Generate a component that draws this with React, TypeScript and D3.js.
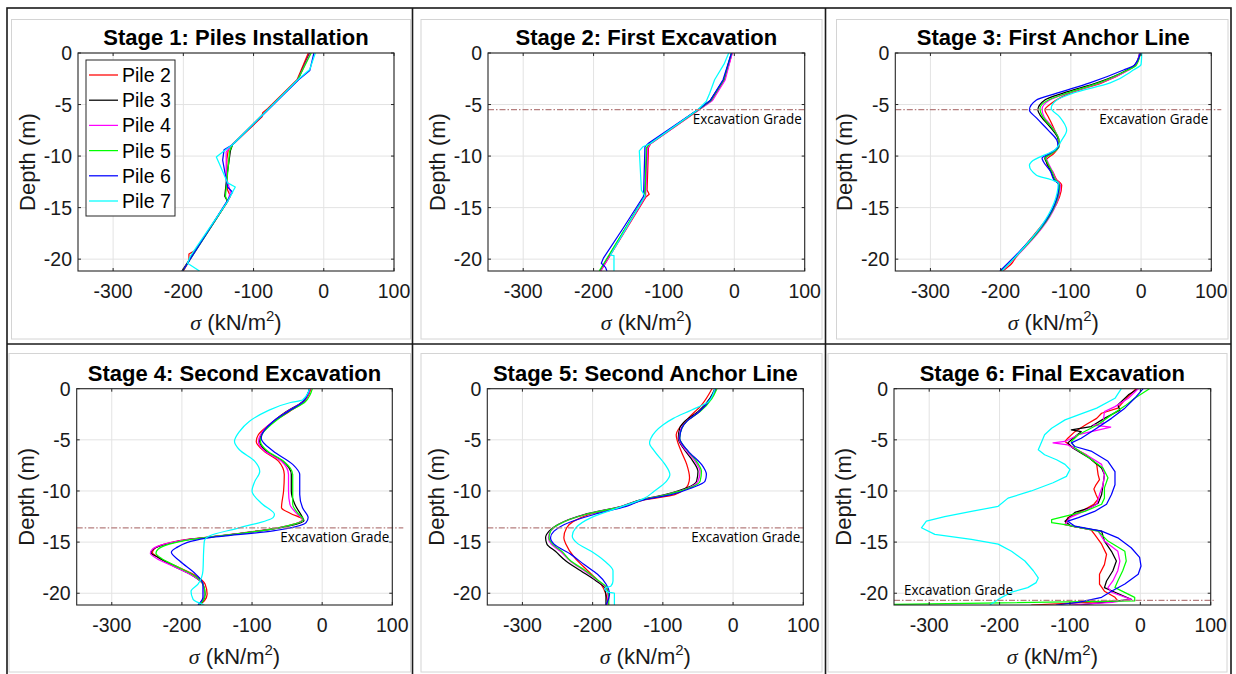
import { useEffect, useRef } from "react";
import * as d3 from "d3";

// each point is [depth (m), sigma (kN/m2)]
type Pt = [number, number];

const pileNames = ["Pile 2", "Pile 3", "Pile 4", "Pile 5", "Pile 6", "Pile 7"];
const pileColors = ["#ff0000", "#000000", "#ff00ff", "#00ff00", "#0000ff", "#00ffff"];

const stageTitles = [
  "Stage 1: Piles Installation",
  "Stage 2: First Excavation",
  "Stage 3: First Anchor Line",
  "Stage 4: Second Excavation",
  "Stage 5: Second Anchor Line",
  "Stage 6: Final Excavation",
];

const sigmaTicks = [-300, -200, -100, 0, 100];
const depthTicks = [0, -5, -10, -15, -20];
const sigmaDomain = [-350, 100];
const depthDomain = [-21.15, 0];

// excavation grade depth per stage (null = none)
const gradeDepths = [null, -5.5, -5.5, -13.6, -13.6, -20.7];
const gradeLabel = "Excavation Grade";

// ---- Stage 1 ----
const s1Pile2: Pt[] = [[0, -22], [-2.6, -38], [-5.4, -80], [-5.8, -87], [-6.2, -88], [-8.9, -130], [-9.4, -136], [-10.3, -138], [-12, -138], [-13.3, -137], [-13.9, -133], [-14.4, -137], [-17, -162], [-19.2, -184], [-19.5, -192], [-20.2, -192], [-21.15, -200]];
const s1Pile3: Pt[] = [[0, -20], [-2.6, -37], [-8.9, -130], [-9.5, -133], [-12, -138], [-13.9, -141], [-14.4, -137], [-21.15, -202]];
const s1Pile4: Pt[] = [[0, -19], [-2.6, -37], [-8.9, -130], [-9.6, -139], [-12, -139], [-13.5, -133], [-14.4, -137], [-21.15, -201]];
const s1Pile5: Pt[] = [[0, -18], [-2.6, -37], [-8.9, -130], [-9.5, -134], [-13.9, -140], [-14.4, -137], [-21.15, -201]];
const s1Pile6: Pt[] = [[0, -14], [-1.7, -20], [-2.6, -36], [-8.9, -130], [-9.4, -142], [-10.4, -144], [-13, -137], [-13.5, -130], [-14.3, -137], [-21.15, -201]];
const s1Pile7: Pt[] = [[0, -12], [-1.6, -20], [-2.6, -37], [-8.9, -130], [-9.6, -144], [-10.1, -153], [-10.7, -149], [-12.6, -137], [-13, -126], [-13.5, -130], [-14.4, -137], [-19.7, -190], [-20.4, -194], [-21.15, -177]];

// ---- Stage 2 ----
const s2Pile2: Pt[] = [[0, -3], [-2.6, -14], [-4.6, -32], [-5.6, -52], [-8.8, -119], [-9.2, -122], [-13.3, -124], [-13.7, -121], [-14, -126], [-21.15, -190]];
const s2Pile3: Pt[] = [[0, -4], [-2.6, -15], [-4.6, -34], [-5.5, -52], [-8.8, -120], [-9.2, -124], [-13.9, -127], [-21.15, -191]];
const s2Pile4: Pt[] = [[0, -3], [-2.6, -13], [-4.6, -31], [-5.5, -50], [-8.8, -119], [-9.2, -123], [-13.9, -126], [-21.15, -190]];
const s2Pile5: Pt[] = [[0, -4], [-2.6, -15], [-4.6, -33], [-5.5, -51], [-8.8, -120], [-9.2, -125], [-13.9, -127], [-21.15, -192]];
const s2Pile6: Pt[] = [[0, -4], [-2.6, -16], [-4.6, -34], [-5.5, -52], [-8.7, -121], [-9.1, -127], [-13.9, -129], [-17, -158], [-19.9, -186], [-20.4, -189], [-20.8, -183], [-21.15, -181]];
const s2Pile7: Pt[] = [[0, -8], [-1, -14], [-2.6, -28], [-3.9, -35], [-4.7, -40], [-5.5, -52], [-8.8, -120], [-9.1, -130], [-9.5, -135], [-13.3, -132], [-13.9, -127], [-19.6, -176], [-19.65, -171], [-21.15, -171]];

// ---- Stage 3 ----
const s3Pile2: Pt[] = [[0, -1], [-1.2, -8], [-1.65, -18], [-2.9, -56], [-3.9, -101], [-4.9, -128], [-5.5, -137], [-6.2, -132], [-7.5, -123], [-8.8, -116], [-9.74, -124], [-10.4, -135], [-10.8, -134], [-11.5, -126], [-12.3, -120], [-12.8, -113], [-20, -180], [-20.4, -184], [-21.15, -197]];
const s3Pile3: Pt[] = [[0, -2], [-1.17, -9], [-1.65, -20], [-2.9, -63], [-3.9, -111], [-4.56, -137], [-5.53, -147], [-6.2, -142], [-7.15, -130], [-8.45, -118], [-9.1, -118], [-9.74, -128], [-10.2, -137], [-10.55, -135], [-11.5, -128], [-12.3, -123], [-12.8, -117], [-21.15, -199]];
const s3Pile4: Pt[] = [[0, -2], [-1.2, -8], [-1.65, -18], [-2.9, -58], [-3.9, -104], [-4.56, -130], [-5.45, -141], [-6.2, -138], [-7.15, -127], [-8.45, -117], [-9.1, -117], [-9.74, -127], [-10.2, -135], [-10.55, -133], [-11.5, -126], [-12.3, -121], [-12.8, -115], [-21.15, -198]];
const s3Pile5: Pt[] = [[0, -1], [-1.2, -7], [-1.65, -19], [-2.9, -60], [-3.9, -106], [-4.56, -132], [-5.4, -144], [-6.2, -140], [-7.15, -128], [-8.45, -117], [-9.1, -117], [-9.74, -127], [-10.2, -136], [-10.55, -134], [-11.5, -127], [-12.3, -122], [-12.8, -116], [-21.15, -199]];
const s3Pile6: Pt[] = [[0, -1], [-1.2, -10], [-1.65, -25], [-2.9, -73], [-3.9, -120], [-4.56, -149], [-5.53, -159], [-6.3, -149], [-7.5, -132], [-8.45, -120], [-9.1, -118], [-9.74, -130], [-10.2, -141], [-10.55, -139], [-11.5, -129], [-12.3, -124], [-12.8, -117], [-21.15, -201]];
const s3Pile7: Pt[] = [[0, 1], [-1.1, 0], [-1.65, -11], [-2.9, -44], [-3.9, -97], [-4.56, -120], [-5.37, -128], [-6.2, -116], [-7.5, -106], [-8.45, -113], [-9.4, -123], [-10.55, -156], [-10.9, -159], [-11.85, -149], [-12.3, -128], [-12.6, -118], [-21.15, -198]];

// ---- Stage 4 ----
const s4Pile2: Pt[] = [[0, -16], [-1.27, -26], [-2.24, -47], [-3.54, -76], [-4.5, -91], [-5.16, -94], [-6.1, -83], [-7.1, -62], [-8.4, -54], [-10, -55], [-11.65, -58], [-12.2, -45], [-12.8, -28], [-13.6, -63], [-14.25, -130], [-14.74, -192], [-15.2, -225], [-15.7, -240], [-16.05, -242], [-16.5, -233], [-17.3, -210], [-18.3, -180], [-19.1, -167], [-20.1, -164], [-20.75, -168], [-21.15, -175]];
const s4Pile3: Pt[] = [[0, -18], [-1.27, -28], [-2.24, -51], [-3.54, -75], [-4.5, -87], [-5.16, -89], [-6.1, -80], [-7.1, -56], [-8.4, -44], [-10, -44], [-11.3, -39], [-12.6, -28], [-12.9, -26], [-13.6, -61], [-14.25, -127], [-14.74, -189], [-15.2, -222], [-15.7, -241], [-16.05, -244], [-16.5, -234], [-17.3, -213], [-18.3, -184], [-19.1, -170], [-20.1, -167], [-20.75, -170], [-21.15, -175]];
const s4Pile4: Pt[] = [[0, -17], [-1.27, -27], [-2.24, -50], [-3.54, -76], [-4.5, -88], [-5.16, -91], [-6.1, -82], [-7.1, -58], [-8.4, -48], [-10, -48], [-11.3, -46], [-12.3, -35], [-12.8, -28], [-13.6, -62], [-14.25, -128], [-14.74, -190], [-15.2, -225], [-15.7, -242], [-16.1, -245], [-16.6, -236], [-17.3, -214], [-18.3, -184], [-19.1, -170], [-20.1, -168], [-20.75, -171], [-21.15, -177]];
const s4Pile5: Pt[] = [[0, -14], [-1.27, -24], [-2.24, -48], [-3.54, -73], [-4.5, -86], [-5.16, -88], [-6.1, -78], [-7.1, -55], [-8.4, -42], [-10, -42], [-11.3, -42], [-12.3, -33], [-12.8, -27], [-13.6, -62], [-14.25, -128], [-14.74, -186], [-15.2, -218], [-15.7, -234], [-16.1, -237], [-16.6, -229], [-17.3, -210], [-18.3, -182], [-19.1, -170], [-20.1, -167], [-20.75, -170], [-21.15, -176]];
const s4Pile6: Pt[] = [[0, -18], [-1.27, -27], [-2.24, -49], [-3.2, -70], [-4.84, -87], [-6.1, -70], [-7.4, -42], [-8.4, -32], [-10.35, -32], [-11.65, -28], [-12.6, -20], [-13.1, -23], [-13.9, -70], [-14.6, -165], [-15.55, -208], [-16, -215], [-16.85, -203], [-18.15, -180], [-19.1, -170], [-20.4, -170], [-21.15, -177]];
const s4Pile7: Pt[] = [[0, -18], [-1.1, -28], [-1.35, -45], [-2.24, -80], [-3.2, -104], [-4.2, -118], [-5.16, -125], [-5.97, -118], [-7.1, -96], [-8.1, -89], [-9.06, -96], [-10, -100], [-11.3, -85], [-12.3, -68], [-12.6, -70], [-13.6, -118], [-14.4, -161], [-14.9, -168], [-15.9, -169], [-17.8, -170], [-19.1, -177], [-19.8, -187], [-20.6, -184], [-21.15, -168]];

// ---- Stage 5 ----
const s5Pile2: Pt[] = [[0, -30], [-1.6, -45], [-2.9, -64], [-4.5, -81], [-6.1, -74], [-7.4, -66], [-8.7, -62], [-9.4, -64], [-10.35, -83], [-10.85, -125], [-11.5, -157], [-12.3, -205], [-13, -228], [-13.6, -237], [-14.58, -241], [-15.2, -238], [-16.5, -226], [-17.8, -207], [-19.1, -188], [-20.1, -181], [-21.15, -178]];
const s5Pile3: Pt[] = [[0, -26], [-0.94, -33], [-2.24, -50], [-3.2, -69], [-3.86, -76], [-4.84, -78], [-5.8, -71], [-7.1, -57], [-8.1, -50], [-9.06, -52], [-9.7, -66], [-10.35, -97], [-10.85, -131], [-11.5, -159], [-12.3, -212], [-13.3, -250], [-13.93, -262], [-14.58, -267], [-15.2, -265], [-15.9, -253], [-16.85, -238], [-17.8, -217], [-18.8, -195], [-19.45, -183], [-20.4, -181], [-21.15, -181]];
const s5Pile4: Pt[] = [[0, -24], [-0.94, -31], [-2.24, -48], [-3.2, -66], [-3.86, -74], [-4.84, -77], [-5.8, -70], [-7.1, -54], [-8.1, -47], [-9.06, -50], [-9.7, -63], [-10.35, -94], [-10.85, -128], [-11.5, -158], [-12.3, -210], [-13.3, -249], [-13.93, -260], [-14.58, -263], [-15.2, -259], [-15.9, -246], [-16.85, -232], [-17.8, -212], [-18.8, -192], [-19.45, -181], [-20.4, -178], [-21.15, -178]];
const s5Pile5: Pt[] = [[0, -23], [-0.94, -30], [-2.24, -47], [-3.2, -66], [-3.86, -73], [-4.84, -76], [-5.8, -68], [-7.1, -52], [-8.1, -45], [-9.06, -47], [-9.7, -62], [-10.35, -94], [-10.85, -128], [-11.5, -157], [-12.3, -210], [-13.3, -249], [-13.93, -260], [-14.58, -262], [-15.2, -257], [-15.9, -244], [-16.85, -231], [-17.8, -210], [-18.8, -191], [-19.45, -180], [-20.4, -177], [-21.15, -177]];
const s5Pile6: Pt[] = [[0, -25], [-0.94, -32], [-2.24, -48], [-3.2, -66], [-3.86, -73], [-4.84, -76], [-6.1, -64], [-7.4, -45], [-8.4, -38], [-9.06, -40], [-9.7, -59], [-10.35, -88], [-10.85, -126], [-11.5, -152], [-12.3, -198], [-13.3, -241], [-13.93, -255], [-14.58, -260], [-15.2, -255], [-16.2, -231], [-17.2, -212], [-18.15, -193], [-19.1, -181], [-20.1, -176], [-21.15, -181]];
const s5Pile7: Pt[] = [[0, -26], [-1.27, -35], [-2.08, -59], [-2.9, -85], [-3.54, -100], [-4.84, -117], [-5.3, -119], [-6.1, -112], [-7.4, -97], [-8.4, -90], [-9.06, -95], [-10, -112], [-10.7, -126], [-11.65, -164], [-12.6, -202], [-13.6, -224], [-14.4, -229], [-15.1, -222], [-15.9, -202], [-16.85, -183], [-17.8, -171], [-18.8, -171], [-19.3, -174], [-19.5, -183], [-19.9, -178], [-20.0, -169], [-21.15, -169]];

// ---- Stage 6 ----
const s6Pile2: Pt[] = [[0, -6], [-0.94, -20], [-1.9, -32], [-2.4, -55], [-2.9, -62], [-3.5, -77], [-4.2, -93], [-4.84, -103], [-5.16, -107], [-5.65, -98], [-6.46, -77], [-7.4, -62], [-8.4, -60], [-8.9, -58], [-9.4, -63], [-9.8, -66], [-10.35, -63], [-10.8, -60], [-11.3, -66], [-12, -84], [-12.6, -103], [-13.3, -107], [-13.8, -70], [-14.25, -65], [-15.2, -55], [-16.2, -48], [-17.2, -51], [-18.15, -58], [-19.1, -58], [-19.8, -51], [-20.4, -36], [-20.75, -32], [-21.15, -155]];
const s6Pile3: Pt[] = [[0, -3], [-0.6, -17], [-1.6, -32], [-2.1, -29], [-2.9, -51], [-3.7, -70], [-4.03, -98], [-4.2, -84], [-4.7, -93], [-5.3, -103], [-5.8, -96], [-6.8, -72], [-7.76, -55], [-8.4, -51], [-9.4, -53], [-10.35, -55], [-11.2, -60], [-11.65, -72], [-12.1, -93], [-12.95, -107], [-13.44, -98], [-13.93, -55], [-14.9, -51], [-15.9, -41], [-16.85, -34], [-17.8, -39], [-18.8, -48], [-19.45, -51], [-19.9, -36], [-20.6, -13], [-20.9, -51], [-21.15, -90]];
const s6Pile4: Pt[] = [[0, -3], [-0.94, -17], [-1.75, -36], [-2.24, -51], [-3.4, -53], [-3.55, -67], [-3.75, -42], [-4.5, -88], [-5.16, -107], [-5.3, -124], [-5.5, -103], [-6.46, -77], [-7.4, -55], [-8.4, -51], [-9.4, -53], [-10.35, -58], [-11.3, -62], [-11.95, -79], [-12.6, -100], [-13.3, -107], [-13.93, -60], [-14.9, -51], [-15.9, -32], [-16.85, -29], [-17.8, -32], [-18.8, -39], [-19.45, -46], [-19.9, -41], [-20.6, -13], [-20.9, -40], [-21.15, -100]];
const s6Pile5: Pt[] = [[0, 13], [-0.94, -8], [-1.6, -20], [-2.56, -41], [-3.5, -60], [-4.5, -88], [-5.16, -98], [-5.8, -93], [-6.8, -72], [-7.76, -53], [-8.7, -46], [-9.7, -51], [-10.7, -51], [-11.3, -55], [-12, -79], [-12.8, -126], [-13.1, -126], [-13.3, -107], [-13.93, -60], [-14.9, -46], [-15.9, -22], [-16.85, -20], [-17.8, -25], [-18.8, -32], [-19.45, -36], [-20.4, -8], [-20.75, -8], [-21.15, -400]];
const s6Pile6: Pt[] = [[0, 4], [-0.94, -8], [-1.9, -22], [-2.9, -41], [-3.86, -62], [-4.84, -84], [-5.3, -98], [-5.65, -93], [-6.1, -70], [-7.1, -46], [-8.1, -36], [-9.4, -36], [-10.35, -41], [-11.3, -48], [-12, -65], [-12.6, -88], [-12.95, -103], [-13.44, -93], [-13.93, -55], [-14.58, -32], [-15.55, -13], [-16.5, -1], [-17.34, 1], [-18.15, -3], [-19.1, -22], [-19.8, -41], [-20.4, -55], [-20.9, -88], [-21.15, -120]];
const s6Pile7: Pt[] = [[0, -27], [-0.94, -36], [-1.9, -62], [-2.56, -88], [-3.05, -107], [-3.86, -126], [-4.5, -136], [-5.16, -140], [-5.97, -145], [-6.46, -136], [-6.95, -119], [-7.4, -107], [-7.9, -100], [-8.57, -105], [-9.2, -124], [-10, -155], [-10.7, -188], [-11.5, -202], [-12, -240], [-12.5, -278], [-12.95, -304], [-13.6, -311], [-14.25, -292], [-14.74, -240], [-15.2, -202], [-15.9, -183], [-16.85, -164], [-17.8, -152], [-18.5, -145], [-18.96, -148], [-19.45, -160], [-19.9, -183], [-20.4, -197], [-21.15, -214]];

const stageCurves: Pt[][][] = [
  [s1Pile2, s1Pile3, s1Pile4, s1Pile5, s1Pile6, s1Pile7],
  [s2Pile2, s2Pile3, s2Pile4, s2Pile5, s2Pile6, s2Pile7],
  [s3Pile2, s3Pile3, s3Pile4, s3Pile5, s3Pile6, s3Pile7],
  [s4Pile2, s4Pile3, s4Pile4, s4Pile5, s4Pile6, s4Pile7],
  [s5Pile2, s5Pile3, s5Pile4, s5Pile5, s5Pile6, s5Pile7],
  [s6Pile2, s6Pile3, s6Pile4, s6Pile5, s6Pile6, s6Pile7],
];

// layout (pixels)
const plotBoxes = [
  { l: 78, r: 394, t: 53, b: 271 },
  { l: 488, r: 804.7, t: 53, b: 271 },
  { l: 895.3, r: 1211.3, t: 53, b: 271 },
  { l: 76.7, r: 392.3, t: 388.7, b: 605 },
  { l: 487.3, r: 803.3, t: 388.7, b: 605 },
  { l: 894, r: 1210.7, t: 388.7, b: 605 },
];
const frames = [
  [11.5, 19.5, 410.5, 339],
  [421, 19.5, 822, 339],
  [836.5, 19.5, 1228, 339],
  [9, 353.5, 410.5, 672],
  [421, 353.5, 822, 672],
  [828, 353.5, 1227, 672],
];
const gradeLineExtra = [0, 0, 10, 11, 1, 3];
const smoothStage = [false, false, true, true, true, false];

const FONT = "'Liberation Sans', Arial, Helvetica, sans-serif";

export default function App() {
  const svgRef = useRef<SVGSVGElement>(null);

  useEffect(() => {
    const svg = d3.select(svgRef.current);
    svg.selectAll("*").remove();

    svg.append("rect").attr("width", 1236).attr("height", 674).attr("fill", "white");

    // light frames around each figure
    frames.forEach(([x0, y0, x1, y1]) => {
      svg
        .append("rect")
        .attr("x", x0)
        .attr("y", y0)
        .attr("width", x1 - x0)
        .attr("height", y1 - y0)
        .attr("fill", "none")
        .attr("stroke", "#d4d4d4")
        .attr("stroke-width", 1);
    });

    // table borders
    const table = svg.append("g").attr("stroke", "#1a1a1a").attr("stroke-width", 1.6).attr("fill", "none");
    table.append("rect").attr("x", 7).attr("y", 8).attr("width", 1224).attr("height", 670);
    table.append("line").attr("x1", 412.5).attr("x2", 412.5).attr("y1", 8).attr("y2", 674);
    table.append("line").attr("x1", 825.5).attr("x2", 825.5).attr("y1", 8).attr("y2", 674);
    table.append("line").attr("x1", 7).attr("x2", 1231).attr("y1", 344).attr("y2", 344);

    stageCurves.forEach((curves, si) => {
      const box = plotBoxes[si];
      const g = svg.append("g");
      const x = d3.scaleLinear().domain(sigmaDomain).range([box.l, box.r]);
      const y = d3.scaleLinear().domain(depthDomain).range([box.b, box.t]);

      g.append("rect")
        .attr("x", box.l)
        .attr("y", box.t)
        .attr("width", box.r - box.l)
        .attr("height", box.b - box.t)
        .attr("fill", "white");

      // grids
      g.append("g")
        .selectAll("line")
        .data(sigmaTicks)
        .join("line")
        .attr("x1", (d) => x(d))
        .attr("x2", (d) => x(d))
        .attr("y1", box.t)
        .attr("y2", box.b)
        .attr("stroke", "#e3e3e3")
        .attr("stroke-width", 1);
      g.append("g")
        .selectAll("line")
        .data(depthTicks)
        .join("line")
        .attr("x1", box.l)
        .attr("x2", box.r)
        .attr("y1", (d) => y(d))
        .attr("y2", (d) => y(d))
        .attr("stroke", "#e3e3e3")
        .attr("stroke-width", 1);

      // curves
      const clipId = `clip-${si}`;
      svg
        .append("clipPath")
        .attr("id", clipId)
        .append("rect")
        .attr("x", box.l)
        .attr("y", box.t)
        .attr("width", box.r - box.l)
        .attr("height", box.b - box.t);

      const line = d3
        .line<Pt>()
        .x((d) => x(d[1]))
        .y((d) => y(d[0]))
        .curve(smoothStage[si] ? d3.curveMonotoneY : d3.curveLinear);

      g.append("g")
        .attr("clip-path", `url(#${clipId})`)
        .selectAll("path")
        .data(curves)
        .join("path")
        .attr("d", (d) => line(d))
        .attr("fill", "none")
        .attr("stroke", (_, i) => pileColors[i])
        .attr("stroke-width", 1.25)
        .attr("stroke-linejoin", "round");

      // excavation grade
      const gd = gradeDepths[si];
      if (gd !== null) {
        const gy = y(gd);
        g.append("line")
          .attr("x1", box.l)
          .attr("x2", box.r + gradeLineExtra[si])
          .attr("y1", gy)
          .attr("y2", gy)
          .attr("stroke", "#b57e7e")
          .attr("stroke-width", 1.2)
          .attr("stroke-dasharray", "6,2,1.5,2");
        const atLeft = si === 5;
        g.append("text")
          .attr("x", atLeft ? box.l + 10 : box.r - 3)
          .attr("y", atLeft ? gy - 5 : gy + 14)
          .attr("text-anchor", atLeft ? "start" : "end")
          .attr("font-family", "'Open Sans', 'Noto Sans', sans-serif")
          .attr("font-size", 14)
          .attr("textLength", 109)
          .attr("lengthAdjust", "spacingAndGlyphs")
          .attr("fill", "#000")
          .text(gradeLabel);
      }

      // axes box with inward ticks
      g.append("rect")
        .attr("x", box.l)
        .attr("y", box.t)
        .attr("width", box.r - box.l)
        .attr("height", box.b - box.t)
        .attr("fill", "none")
        .attr("stroke", "#262626")
        .attr("stroke-width", 1.1);
      const tk = 3;
      sigmaTicks.forEach((v) => {
        g.append("line").attr("x1", x(v)).attr("x2", x(v)).attr("y1", box.b).attr("y2", box.b - tk).attr("stroke", "#262626");
        g.append("line").attr("x1", x(v)).attr("x2", x(v)).attr("y1", box.t).attr("y2", box.t + tk).attr("stroke", "#262626");
      });
      depthTicks.forEach((v) => {
        g.append("line").attr("x1", box.l).attr("x2", box.l + tk).attr("y1", y(v)).attr("y2", y(v)).attr("stroke", "#262626");
        g.append("line").attr("x1", box.r).attr("x2", box.r - tk).attr("y1", y(v)).attr("y2", y(v)).attr("stroke", "#262626");
      });

      // tick labels
      g.append("g")
        .selectAll("text")
        .data(sigmaTicks)
        .join("text")
        .attr("x", (d) => x(d))
        .attr("y", box.b + 27)
        .attr("text-anchor", "middle")
        .attr("font-family", FONT)
        .attr("font-size", 19.5)
        .attr("fill", "#1a1a1a")
        .text((d) => d3.format("d")(d).replace("−", "-"));
      g.append("g")
        .selectAll("text")
        .data(depthTicks)
        .join("text")
        .attr("x", box.l - 6)
        .attr("y", (d) => y(d) + 7)
        .attr("text-anchor", "end")
        .attr("font-family", FONT)
        .attr("font-size", 19.5)
        .attr("fill", "#1a1a1a")
        .text((d) => d3.format("d")(d).replace("−", "-"));

      const cx = (box.l + box.r) / 2;
      const cy = (box.t + box.b) / 2;

      // title
      g.append("text")
        .attr("x", cx)
        .attr("y", box.t - 8)
        .attr("text-anchor", "middle")
        .attr("font-family", FONT)
        .attr("font-weight", "bold")
        .attr("font-size", 22)
        .attr("fill", "#000")
        .text(stageTitles[si]);

      // axis labels
      const xl = g
        .append("text")
        .attr("x", cx)
        .attr("y", box.b + 59)
        .attr("text-anchor", "middle")
        .attr("font-family", FONT)
        .attr("font-size", 22)
        .attr("fill", "#1a1a1a");
      xl.append("tspan").attr("font-family", "'Liberation Serif', 'DejaVu Serif', serif").attr("font-style", "italic").text("σ");
      xl.append("tspan").text(" (kN/m");
      xl.append("tspan").attr("font-size", 15).attr("dy", -9).text("2");
      xl.append("tspan").attr("dy", 9).text(")");

      g.append("text")
        .attr("transform", `translate(${box.l - 43},${cy}) rotate(-90)`)
        .attr("text-anchor", "middle")
        .attr("font-family", FONT)
        .attr("font-size", 22)
        .attr("fill", "#1a1a1a")
        .text("Depth (m)");

      // legend only on first stage
      if (si === 0) {
        const lg = g.append("g");
        const lx = box.l + 8;
        const ly = box.t + 7;
        lg.append("rect")
          .attr("x", lx)
          .attr("y", ly)
          .attr("width", 89)
          .attr("height", 156)
          .attr("fill", "white")
          .attr("stroke", "#262626")
          .attr("stroke-width", 1);
        pileNames.forEach((name, i) => {
          const ey = ly + 15 + i * 25.2;
          lg.append("line")
            .attr("x1", lx + 3)
            .attr("x2", lx + 32)
            .attr("y1", ey)
            .attr("y2", ey)
            .attr("stroke", pileColors[i])
            .attr("stroke-width", 1.25);
          lg.append("text")
            .attr("x", lx + 36)
            .attr("y", ey + 7)
            .attr("font-family", FONT)
            .attr("font-size", 19.5)
            .attr("fill", "#000")
            .text(name);
        });
      }
    });
  }, []);

  return (
    <svg
      ref={svgRef}
      width={1236}
      height={674}
      style={{ position: "absolute", left: 0, top: 0 }}
    ></svg>
  );
}
